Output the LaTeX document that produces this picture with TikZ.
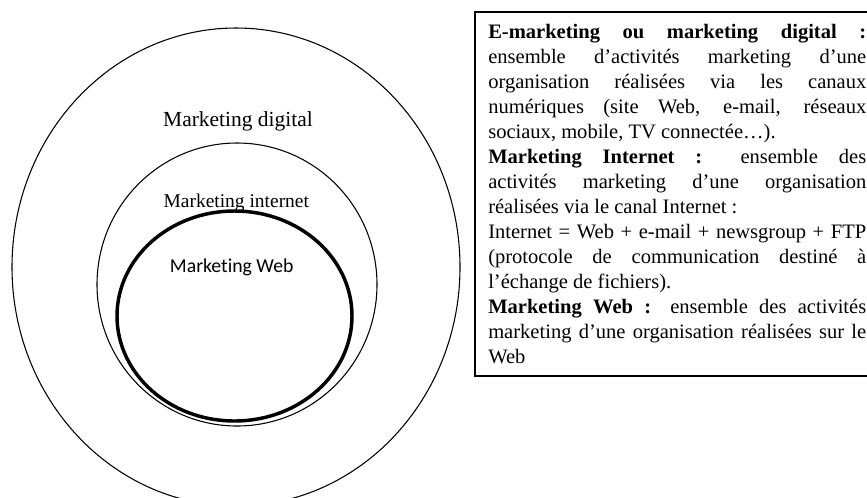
\documentclass[tikz,border=0pt]{standalone}
\usepackage{fontspec}
\setmainfont{Liberation Serif}
\newfontfamily\webfont[Ligatures=NoCommon]{Carlito}
\usetikzlibrary{shapes.geometric}

% width of the justified definition text
\newlength\defw
\setlength\defw{283.5pt}
\newcommand\fullline[1]{\hbox to \defw{#1}}
\newcommand\lastline[1]{\hbox to \defw{#1\hfil}}

\begin{document}
\begin{tikzpicture}[x=0.75pt,y=-0.75pt,
  ring/.style={draw, ellipse, inner sep=0pt, line width=0.8pt},
  webring/.style={draw, ellipse, inner sep=0pt, line width=2.6pt},
  ringlabel/.style={inner sep=0pt, anchor=base},
  frame/.style={draw, line width=0.8pt},
]
\useasboundingbox (0,0) rectangle (867,497);
\clip (0,0) rectangle (867,497);

% nested fields of digital marketing
\node[ring, minimum width=336pt, minimum height=358.5pt] (digital) at (236,267) {};
\node[ring, minimum width=210pt, minimum height=212.25pt] (internet) at (237,284.5) {};

\node[ringlabel, font=\fontsize{16.1pt}{19pt}\selectfont] (digitallabel) at (238,126) {Marketing digital};
\node[ringlabel, font=\fontsize{14.6pt}{17pt}\selectfont] (internetlabel) at (236.3,207.5) {Marketing internet};
\node[ringlabel, font=\webfont\fontsize{14.8pt}{17pt}\selectfont] (weblabel) at (231.7,272.7) {Marketing Web};

\node[webring, minimum width=176.25pt, minimum height=157.5pt] (web) at (234.5,316) {};

% definitions box
\draw[frame] (475,12) rectangle (890,376);
\node[inner sep=0pt, anchor=base west, font=\fontsize{15.4pt}{18.75pt}\selectfont] (definitions) at (488,38) {\vtop{%
  \baselineskip=18.75pt
  \fullline{\textbf{E-marketing ou marketing digital :}}
  \fullline{ensemble d’activités marketing d’une}
  \fullline{organisation réalisées via les canaux}
  \fullline{numériques (site Web, e-mail, réseaux}
  \lastline{sociaux, mobile, TV connectée…).}
  \fullline{\textbf{Marketing Internet :} ensemble des}
  \fullline{activités marketing d’une organisation}
  \lastline{réalisées via le canal Internet :}
  \fullline{Internet = Web + e-mail + newsgroup + FTP}
  \fullline{(protocole de communication destiné à}
  \lastline{l’échange de fichiers).}
  \fullline{\textbf{Marketing Web :} ensemble des activités}
  \fullline{marketing d’une organisation réalisées sur le}
  \lastline{Web}}};
\end{tikzpicture}
\end{document}
